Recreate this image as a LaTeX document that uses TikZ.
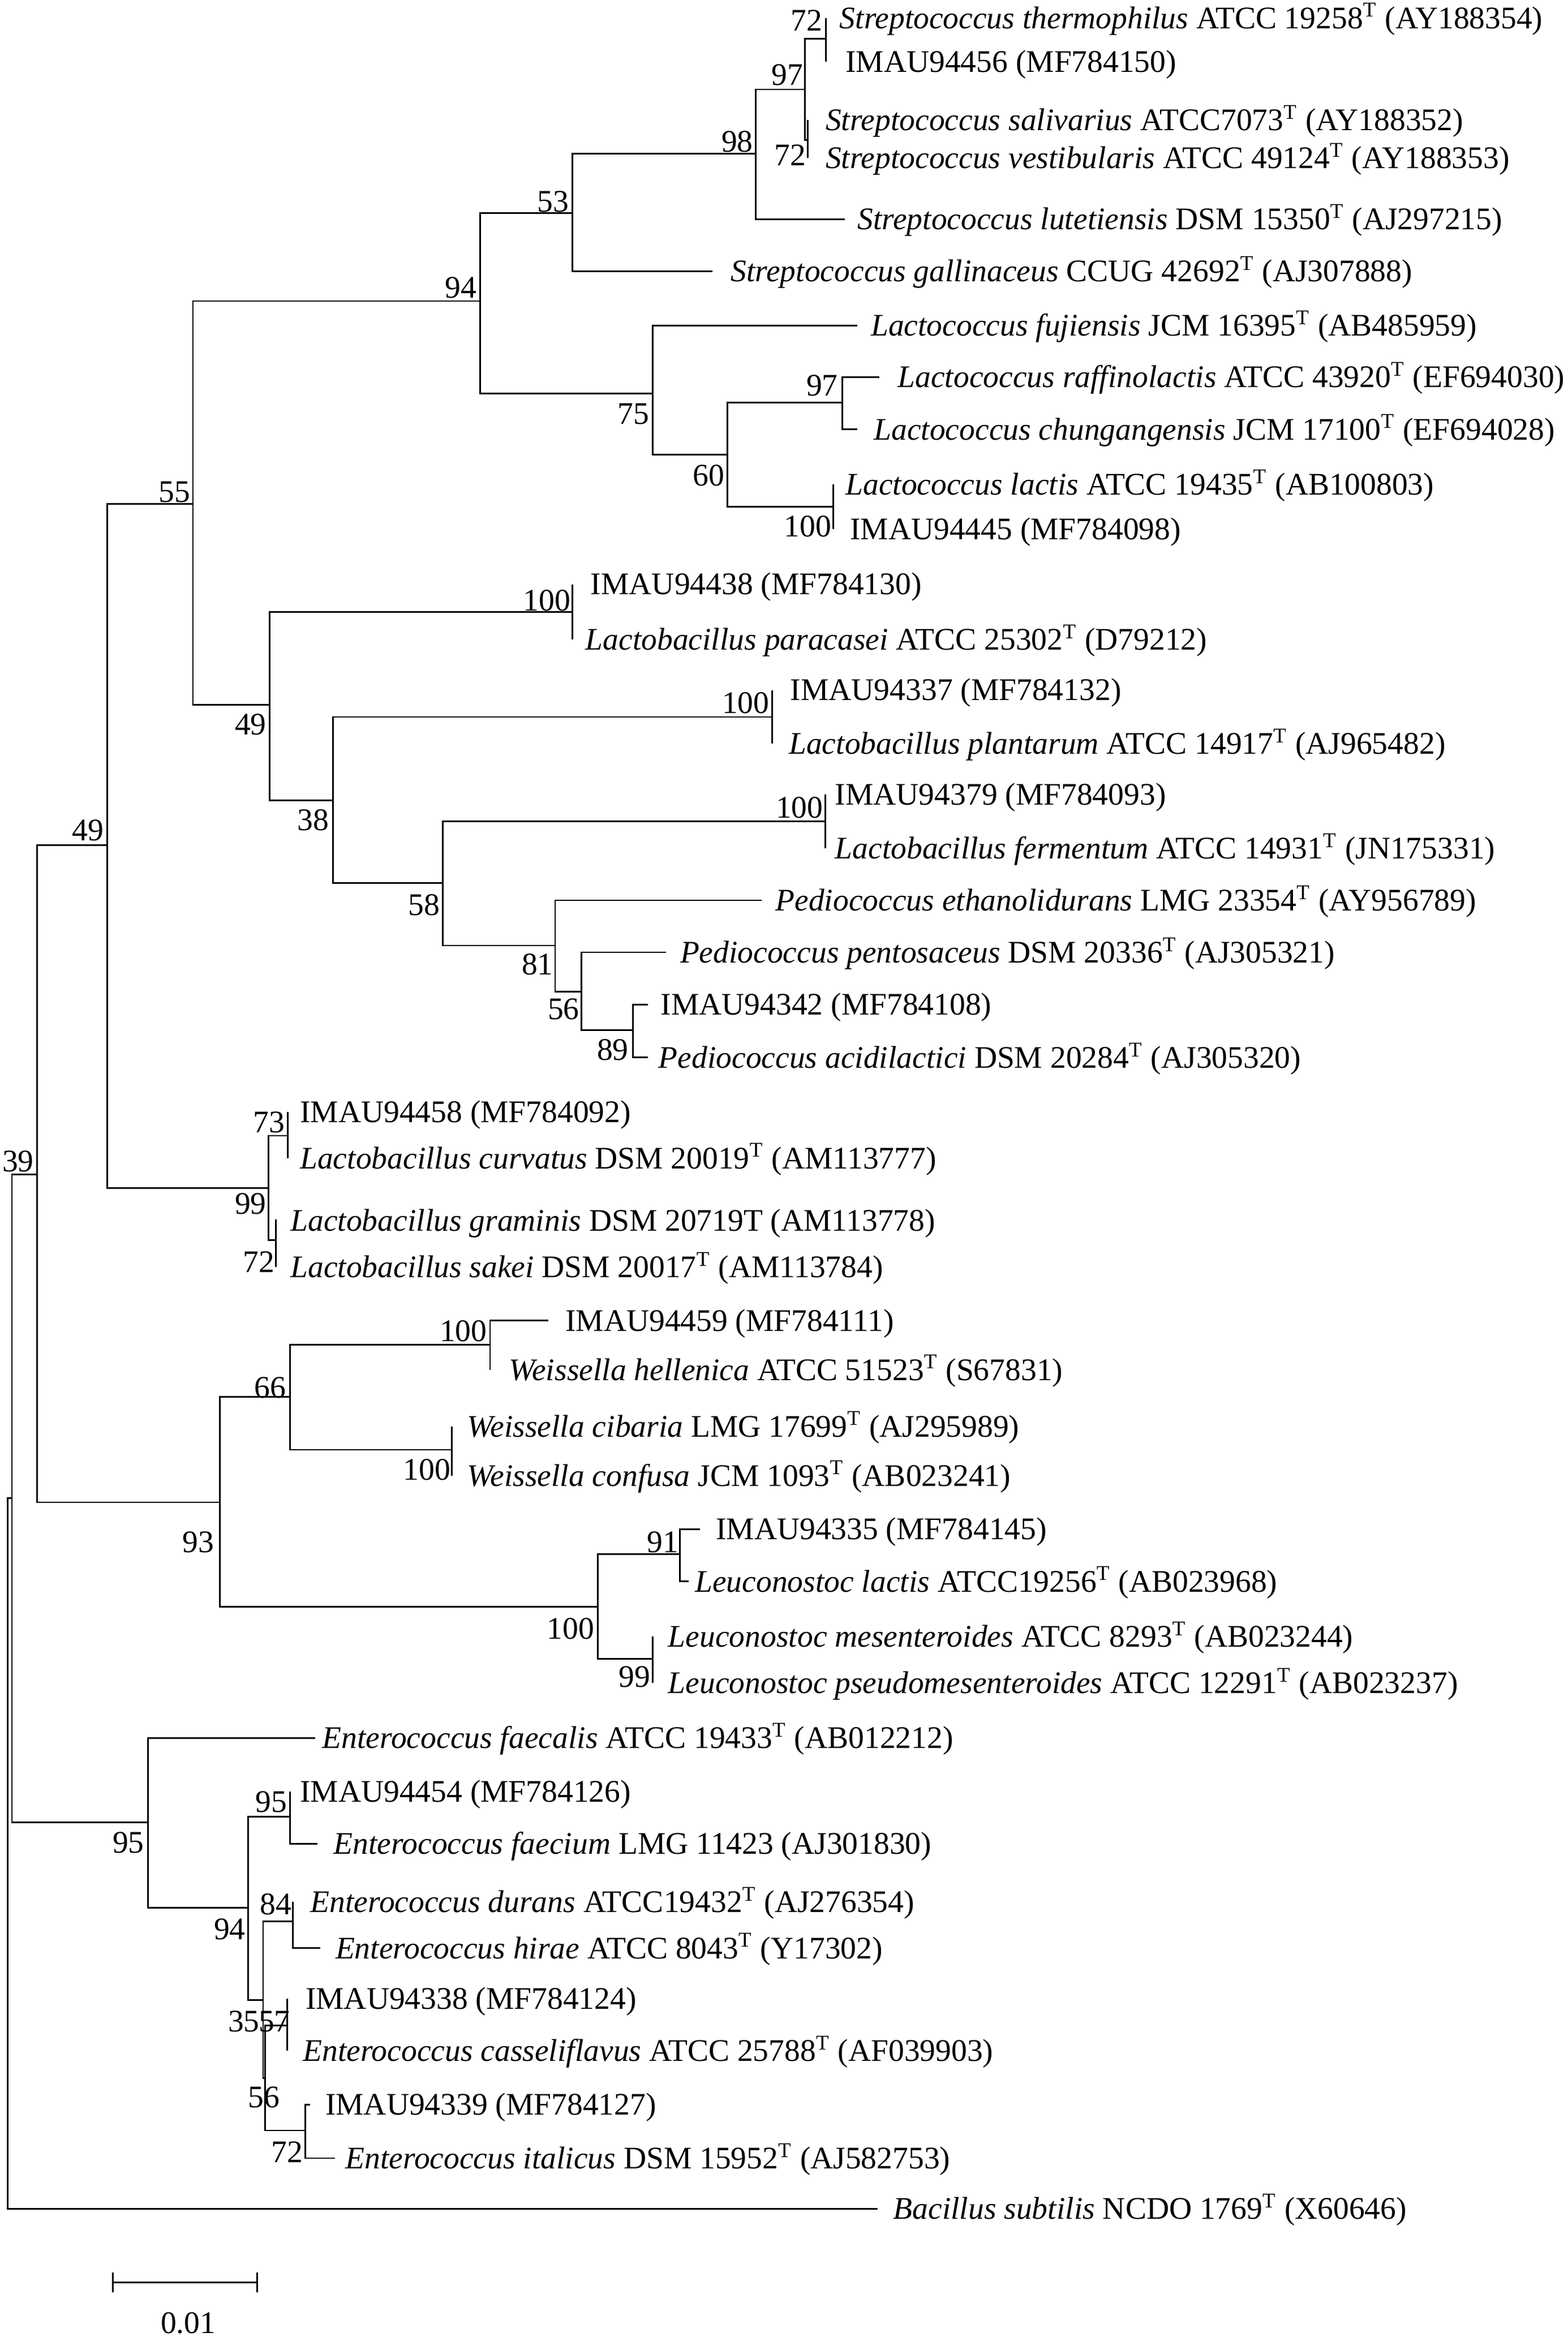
\documentclass[tikz,border=0pt]{standalone}
\usepackage{fontspec}
\setmainfont{Liberation Serif}
\usepackage{tikz}

\tikzset{
  br/.style={line width=0.6pt},
  leaf/.style={anchor=base west,inner sep=0pt,font=\fontsize{12}{14}\selectfont},
  boot/.style={anchor=base east,inner sep=0pt,font=\fontsize{12}{14}\selectfont}
}

\begin{document}
\begin{tikzpicture}[x=0.02cm,y=-0.02cm]
\useasboundingbox (0,0) rectangle (1052,1568);

\coordinate (t01) at (554,12);
\coordinate (t02) at (554,41.5);
\coordinate (t03) at (542,80.5);
\coordinate (t04) at (542,106);
\coordinate (t05) at (567,147);
\coordinate (t06) at (478,182);
\coordinate (t07) at (575,218.5);
\coordinate (t08) at (590,253);
\coordinate (t09) at (575,288);
\coordinate (t10) at (559,325);
\coordinate (t11) at (559,355);
\coordinate (t12) at (384,392);
\coordinate (t13) at (384,429);
\coordinate (t14) at (518,463);
\coordinate (t15) at (518,499);
\coordinate (t16) at (553.6,533);
\coordinate (t17) at (553.6,569);
\coordinate (t18) at (511,604);
\coordinate (t19) at (447,639);
\coordinate (t20) at (434.8,674);
\coordinate (t21) at (434.8,709.5);
\coordinate (t22) at (193,746);
\coordinate (t23) at (193,777);
\coordinate (t24) at (185,818);
\coordinate (t25) at (185,850);
\coordinate (t26) at (367.7,886);
\coordinate (t27) at (328.8,919);
\coordinate (t28) at (303.3,957);
\coordinate (t29) at (303.3,990);
\coordinate (t30) at (469.7,1026);
\coordinate (t31) at (462,1061);
\coordinate (t32) at (438,1098);
\coordinate (t33) at (438,1129);
\coordinate (t34) at (211.4,1166);
\coordinate (t35) at (194.6,1202);
\coordinate (t36) at (213,1237);
\coordinate (t37) at (196.6,1276);
\coordinate (t38) at (214.7,1307);
\coordinate (t39) at (192.6,1341);
\coordinate (t40) at (192.6,1376);
\coordinate (t41) at (208,1412);
\coordinate (t42) at (224.8,1448);
\coordinate (t43) at (589,1482);

\coordinate (n72a) at (554,26);
\coordinate (n72b) at (542,94);
\coordinate (n97a) at (540,60);
\coordinate (n98) at (507,103);
\coordinate (n53) at (384,143);
\coordinate (n97b) at (565,270);
\coordinate (n100a) at (559,340);
\coordinate (n60) at (488,305);
\coordinate (n75) at (438,264);
\coordinate (n94) at (322,202);
\coordinate (n100b) at (384,410.5);
\coordinate (n100c) at (518,481);
\coordinate (n100d) at (553.6,551);
\coordinate (n89) at (424.7,691.3);
\coordinate (n56a) at (390,665.4);
\coordinate (n81) at (372.4,634.4);
\coordinate (n58) at (297,592.5);
\coordinate (n38) at (223.5,537);
\coordinate (n49i) at (181,473);
\coordinate (n55) at (129.5,338);
\coordinate (n73) at (193,762);
\coordinate (n72c) at (185,832);
\coordinate (n99) at (180,797);
\coordinate (n49o) at (72,567);
\coordinate (n100e) at (328.8,902.4);
\coordinate (n100g) at (303.3,972.7);
\coordinate (n66) at (194.6,937.3);
\coordinate (n91) at (456.3,1042.6);
\coordinate (n99b) at (438,1113);
\coordinate (n100f) at (401,1078);
\coordinate (n93) at (147.6,1008);
\coordinate (n39) at (24.8,788);
\coordinate (n95b) at (194.6,1219);
\coordinate (n84) at (196.6,1289);
\coordinate (n57) at (192.6,1359);
\coordinate (n72d) at (204.7,1429.4);
\coordinate (n56b) at (177.8,1394.4);
\coordinate (n35) at (176.5,1341.8);
\coordinate (n94b) at (166.4,1280);
\coordinate (n95a) at (99.3,1222.7);
\coordinate (nA) at (8,1005);
\coordinate (root) at (5,1243);

\draw[br] (t01) -| (n72a) |- (t02);
\draw[br] (t03) -| (n72b) |- (t04);
\draw[br] (n72a) -| (n97a) |- (n72b);
\draw[br] (n97a) -| (n98) |- (t05);
\draw[br] (n98) -| (n53) |- (t06);
\draw[br] (t08) -| (n97b) |- (t09);
\draw[br] (t10) -| (n100a) |- (t11);
\draw[br] (n97b) -| (n60) |- (n100a);
\draw[br] (t07) -| (n75) |- (n60);
\draw[br] (n53) -| (n94) |- (n75);
\draw[br] (t12) -| (n100b) |- (t13);
\draw[br] (t14) -| (n100c) |- (t15);
\draw[br] (t16) -| (n100d) |- (t17);
\draw[br] (t20) -| (n89) |- (t21);
\draw[br] (t19) -| (n56a) |- (n89);
\draw[br] (t18) -| (n81) |- (n56a);
\draw[br] (n100d) -| (n58) |- (n81);
\draw[br] (n100c) -| (n38) |- (n58);
\draw[br] (n100b) -| (n49i) |- (n38);
\draw[br] (n94) -| (n55) |- (n49i);
\draw[br] (t22) -| (n73) |- (t23);
\draw[br] (t24) -| (n72c) |- (t25);
\draw[br] (n73) -| (n99) |- (n72c);
\draw[br] (n55) -| (n49o) |- (n99);
\draw[br] (t26) -| (n100e) |- (t27);
\draw[br] (t28) -| (n100g) |- (t29);
\draw[br] (n100e) -| (n66) |- (n100g);
\draw[br] (t30) -| (n91) |- (t31);
\draw[br] (t32) -| (n99b) |- (t33);
\draw[br] (n91) -| (n100f) |- (n99b);
\draw[br] (n66) -| (n93) |- (n100f);
\draw[br] (n49o) -| (n39) |- (n93);
\draw[br] (t35) -| (n95b) |- (t36);
\draw[br] (t37) -| (n84) |- (t38);
\draw[br] (t39) -| (n57) |- (t40);
\draw[br] (t41) -| (n72d) |- (t42);
\draw[br] (n57) -| (n56b) |- (n72d);
\draw[br] (n84) -| (n35) |- (n56b);
\draw[br] (n95b) -| (n94b) |- (n35);
\draw[br] (t34) -| (n95a) |- (n94b);
\draw[br] (n39) -| (nA) |- (n95a);
\draw[br] (nA) -| (root) |- (t43);

\node[leaf] (sthe) at (563,19) {\textit{Streptococcus thermophilus} ATCC 19258\textsuperscript{T} (AY188354)};
\node[leaf] (i94456) at (567,48.5) {IMAU94456 (MF784150)};
\node[leaf] (ssal) at (553.6,87.5) {\textit{Streptococcus salivarius} ATCC7073\textsuperscript{T} (AY188352)};
\node[leaf] (sves) at (553.6,113) {\textit{Streptococcus vestibularis} ATCC 49124\textsuperscript{T} (AY188353)};
\node[leaf] (slut) at (575,154) {\textit{Streptococcus lutetiensis} DSM 15350\textsuperscript{T} (AJ297215)};
\node[leaf] (sgal) at (490,189) {\textit{Streptococcus gallinaceus} CCUG 42692\textsuperscript{T} (AJ307888)};
\node[leaf] (lfuj) at (584,225.5) {\textit{Lactococcus fujiensis} JCM 16395\textsuperscript{T} (AB485959)};
\node[leaf] (lraf) at (602,260) {\textit{Lactococcus raffinolactis} ATCC 43920\textsuperscript{T} (EF694030)};
\node[leaf] (lchu) at (586,295) {\textit{Lactococcus chungangensis} JCM 17100\textsuperscript{T} (EF694028)};
\node[leaf] (llac) at (567,332) {\textit{Lactococcus lactis} ATCC 19435\textsuperscript{T} (AB100803)};
\node[leaf] (i94445) at (570,362) {IMAU94445 (MF784098)};
\node[leaf] (i94438) at (396,399) {IMAU94438 (MF784130)};
\node[leaf] (lpar) at (392.5,436) {\textit{Lactobacillus paracasei} ATCC 25302\textsuperscript{T} (D79212)};
\node[leaf] (i94337) at (530,470) {IMAU94337 (MF784132)};
\node[leaf] (lpla) at (529,506) {\textit{Lactobacillus plantarum} ATCC 14917\textsuperscript{T} (AJ965482)};
\node[leaf] (i94379) at (560,540) {IMAU94379 (MF784093)};
\node[leaf] (lfer) at (560,576) {\textit{Lactobacillus fermentum} ATCC 14931\textsuperscript{T} (JN175331)};
\node[leaf] (peth) at (520,611) {\textit{Pediococcus ethanolidurans} LMG 23354\textsuperscript{T} (AY956789)};
\node[leaf] (ppen) at (456,646) {\textit{Pediococcus pentosaceus} DSM 20336\textsuperscript{T} (AJ305321)};
\node[leaf] (i94342) at (443,681) {IMAU94342 (MF784108)};
\node[leaf] (paci) at (441.5,716.5) {\textit{Pediococcus acidilactici} DSM 20284\textsuperscript{T} (AJ305320)};
\node[leaf] (i94458) at (201,753) {IMAU94458 (MF784092)};
\node[leaf] (lcur) at (201,784) {\textit{Lactobacillus curvatus} DSM 20019\textsuperscript{T} (AM113777)};
\node[leaf] (lgra) at (194.6,826) {\textit{Lactobacillus graminis} DSM 20719T (AM113778)};
\node[leaf] (lsak) at (194.6,857) {\textit{Lactobacillus sakei} DSM 20017\textsuperscript{T} (AM113784)};
\node[leaf] (i94459) at (379,893) {IMAU94459 (MF784111)};
\node[leaf] (whel) at (341,926) {\textit{Weissella hellenica} ATCC 51523\textsuperscript{T} (S67831)};
\node[leaf] (wcib) at (313,964) {\textit{Weissella cibaria} LMG 17699\textsuperscript{T} (AJ295989)};
\node[leaf] (wcon) at (313,997) {\textit{Weissella confusa} JCM 1093\textsuperscript{T} (AB023241)};
\node[leaf] (i94335) at (480,1033) {IMAU94335 (MF784145)};
\node[leaf] (leulac) at (466,1068) {\textit{Leuconostoc lactis} ATCC19256\textsuperscript{T} (AB023968)};
\node[leaf] (lmes) at (448,1105) {\textit{Leuconostoc mesenteroides} ATCC 8293\textsuperscript{T} (AB023244)};
\node[leaf] (lpse) at (448,1136) {\textit{Leuconostoc pseudomesenteroides} ATCC 12291\textsuperscript{T} (AB023237)};
\node[leaf] (efcl) at (216,1173) {\textit{Enterococcus faecalis} ATCC 19433\textsuperscript{T} (AB012212)};
\node[leaf] (i94454) at (201,1209) {IMAU94454 (MF784126)};
\node[leaf] (efcm) at (223.4,1244) {\textit{Enterococcus faecium} LMG 11423 (AJ301830)};
\node[leaf] (edur) at (208,1283) {\textit{Enterococcus durans} ATCC19432\textsuperscript{T} (AJ276354)};
\node[leaf] (ehir) at (224.8,1314) {\textit{Enterococcus hirae} ATCC 8043\textsuperscript{T} (Y17302)};
\node[leaf] (i94338) at (204.7,1348) {IMAU94338 (MF784124)};
\node[leaf] (ecas) at (203,1383) {\textit{Enterococcus casseliflavus} ATCC 25788\textsuperscript{T} (AF039903)};
\node[leaf] (i94339) at (218,1419) {IMAU94339 (MF784127)};
\node[leaf] (eita) at (231.5,1455) {\textit{Enterococcus italicus} DSM 15952\textsuperscript{T} (AJ582753)};
\node[leaf] (bsub) at (599,1489) {\textit{Bacillus subtilis} NCDO 1769\textsuperscript{T} (X60646)};

\node[boot] (b72a) at (552,20.6) {72};
\node[boot] (b97a) at (539,57) {97};
\node[boot] (b98) at (505.5,102) {98};
\node[boot] (b72b) at (541,111) {72};
\node[boot] (b53) at (382,142) {53};
\node[boot] (b94) at (320,200) {94};
\node[boot] (b97b) at (562.5,265.5) {97};
\node[boot] (b75) at (436,284.7) {75};
\node[boot] (b60) at (486.5,326) {60};
\node[boot] (b55) at (128,337) {55};
\node[boot] (b100a) at (558,360) {100};
\node[boot] (b100b) at (383,410) {100};
\node[boot] (b100c) at (516.5,478.7) {100};
\node[boot] (b49i) at (179,493) {49};
\node[boot] (b38) at (221,557) {38};
\node[boot] (b49o) at (70,564) {49};
\node[boot] (b100d) at (552.5,548.7) {100};
\node[boot] (b58) at (295.5,614) {58};
\node[boot] (b81) at (371.5,653.8) {81};
\node[boot] (b56a) at (389,684) {56};
\node[boot] (b89) at (422,711.4) {89};
\node[boot] (b73) at (191.5,759.7) {73};
\node[boot] (b39) at (23,786) {39};
\node[boot] (b99) at (179,814.5) {99};
\node[boot] (b72c) at (184.5,853.5) {72};
\node[boot] (b100e) at (327,900) {100};
\node[boot] (b66) at (192,938) {66};
\node[boot] (b100g) at (302.5,993) {100};
\node[boot] (b93) at (144,1041.6) {93};
\node[boot] (b91) at (455.5,1041.6) {91};
\node[boot] (b100f) at (399,1099.7) {100};
\node[boot] (b99b) at (436.5,1132) {99};
\node[boot] (b95a) at (97,1243) {95};
\node[boot] (b95b) at (193,1215.8) {95};
\node[boot] (b84) at (196,1284.4) {84};
\node[boot] (b94b) at (165,1301.4) {94};
\node[boot] (b35) at (174.5,1363) {35};
\node[boot] (b57) at (195,1363) {57};
\node[boot] (b56b) at (188,1414) {56};
\node[boot] (b72d) at (203.5,1451) {72};

\coordinate (sbl) at (75.8,1531.3);
\coordinate (sbr) at (172.4,1531.3);
\draw[line width=0.65pt] (sbl) -- (sbr);
\draw[line width=0.65pt] ([yshift=0.13cm]sbl) -- ([yshift=-0.13cm]sbl);
\draw[line width=0.65pt] ([yshift=0.13cm]sbr) -- ([yshift=-0.13cm]sbr);
\node[anchor=base,inner sep=0pt,font=\fontsize{12}{14}\selectfont] (sblab) at (126.3,1565.5) {0.01};
\end{tikzpicture}
\end{document}
